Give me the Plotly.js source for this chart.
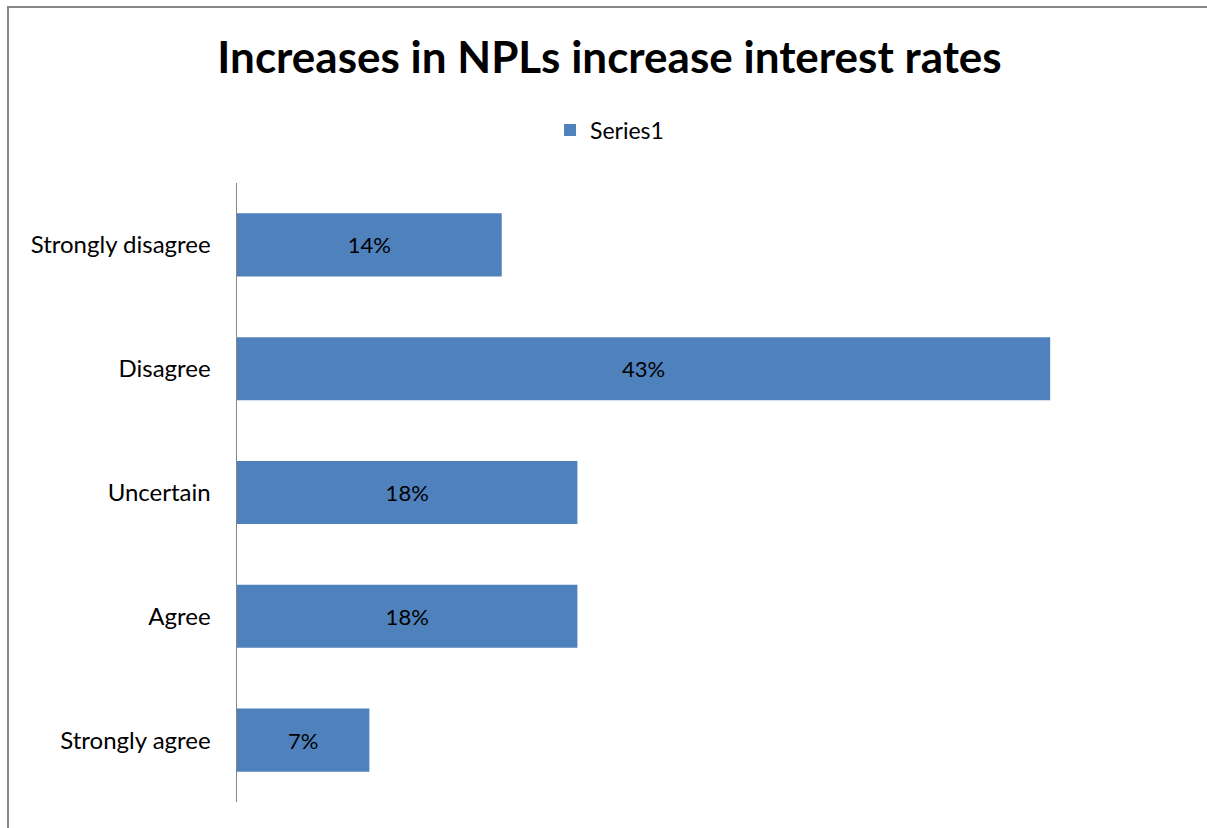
<!DOCTYPE html>
<html>
<head>
<meta charset="utf-8">
<script src="https://cdn.plot.ly/plotly-3.0.1.min.js"></script>
<style>html,body{margin:0;padding:0;background:#fff;}#chart{width:1207px;height:828px;}</style>
</head>
<body>
<div id="chart"></div>
<script>
const categories = ["Strongly disagree", "Disagree", "Uncertain", "Agree", "Strongly agree"];
const values = [0.14, 0.43, 0.18, 0.18, 0.07];
const seriesName = "Series1";
const titleText = "Increases in NPLs increase interest rates";

const W = 1207, H = 828;
const mL = 237, mR = 119, mT = 183, mB = 26;
const pw = W - mL - mR, ph = H - mT - mB;
const px = x => (x - mL) / pw;
const py = y => (H - mB - y) / ph;
const font = "Lato, Carlito, Calibri, sans-serif";

const trace = {
  type: "bar",
  orientation: "h",
  name: seriesName,
  y: categories,
  x: values,
  marker: {color: "#4F81BD"},
  texttemplate: "%{x:.0%}",
  textposition: "inside",
  insidetextanchor: "middle",
  textangle: 0,
  textfont: {family: font, size: 22, color: "#000"},
  hoverinfo: "skip",
  showlegend: true
};

const layout = {
  width: W, height: H,
  margin: {l: mL, r: mR, t: mT, b: mB, pad: 0},
  paper_bgcolor: "#fff",
  plot_bgcolor: "#fff",
  font: {family: font, color: "#000"},
  title: {text: "<b>" + titleText + "</b>", font: {family: font, size: 44, color: "#000"},
          xref: "container", x: 0.505, xanchor: "center", yref: "container", y: 1 - 58/H, yanchor: "middle"},
  showlegend: true,
  legend: {orientation: "h", xref: "container", x: 0.505, xanchor: "center", yref: "container", y: 1 - 130/H, yanchor: "middle",
           font: {family: font, size: 23, color: "#000"}, itemwidth: 30},
  bargap: 0.49,
  xaxis: {range: [0, 0.45], showgrid: false, zeroline: false, showticklabels: false, showline: false, ticks: "", fixedrange: true},
  yaxis: {autorange: "reversed", showgrid: false, zeroline: false, showline: true, linecolor: "#868686", linewidth: 1.5,
          ticks: "", ticklabelstandoff: 20, tickfont: {family: font, size: 24, color: "#000"}},
  shapes: [
    {type: "line", xref: "paper", yref: "paper", x0: px(8), x1: px(8), y0: py(7), y1: py(H + 5), line: {color: "#888", width: 2}},
    {type: "line", xref: "paper", yref: "paper", x0: px(7), x1: px(W + 20), y0: py(7), y1: py(7), line: {color: "#888", width: 2}}
  ]
};

Plotly.newPlot("chart", [trace], layout, {displayModeBar: false, staticPlot: true});
</script>
</body>
</html>
